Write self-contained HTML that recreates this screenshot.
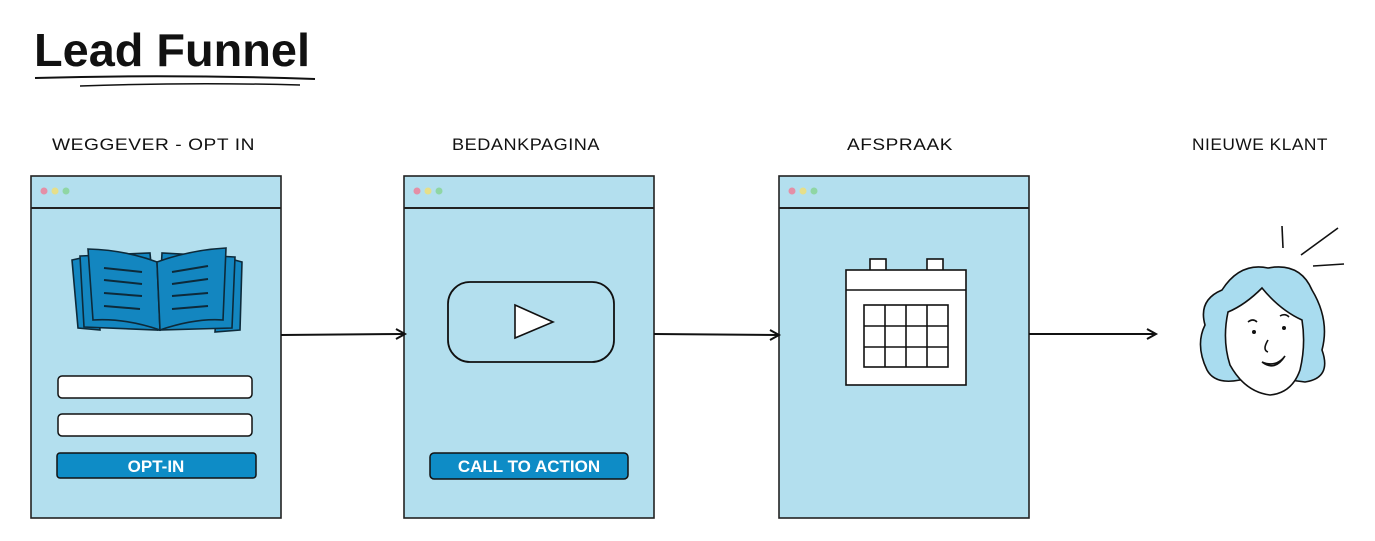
<!DOCTYPE html>
<html><head><meta charset="utf-8"><style>
html,body{margin:0;padding:0;background:#fff;}
svg{display:block}
</style></head><body>
<svg width="1375" height="541" viewBox="0 0 1375 541" xmlns="http://www.w3.org/2000/svg" font-family="Liberation Sans, sans-serif">
<text x="34" y="66" font-size="46" fill="#111" font-weight="bold" textLength="276" lengthAdjust="spacingAndGlyphs">Lead Funnel</text>
<path d="M35 78 Q170 74 315 79" stroke="#111" stroke-width="2" fill="none"/>
<path d="M80 86 Q190 82 300 85" stroke="#111" stroke-width="1.5" fill="none"/>

<g font-size="17" fill="#111" letter-spacing="0.5">
<text x="52" y="150" textLength="203" lengthAdjust="spacingAndGlyphs">WEGGEVER - OPT IN</text>
<text x="452" y="150" textLength="148" lengthAdjust="spacingAndGlyphs">BEDANKPAGINA</text>
<text x="847" y="150" textLength="106" lengthAdjust="spacingAndGlyphs">AFSPRAAK</text>
<text x="1192" y="150" textLength="136" lengthAdjust="spacingAndGlyphs">NIEUWE KLANT</text>
</g>

<g stroke="#222" stroke-width="1.6" fill="#b3dfee">
<rect x="31" y="176" width="250" height="342"/>
<rect x="404" y="176" width="250" height="342"/>
<rect x="779" y="176" width="250" height="342"/>
</g>
<g stroke="#222" stroke-width="2">
<line x1="31" y1="208" x2="281" y2="208"/>
<line x1="404" y1="208" x2="654" y2="208"/>
<line x1="779" y1="208" x2="1029" y2="208"/>
</g>
<g>
<circle cx="44" cy="191" r="3.5" fill="#e48fa6"/><circle cx="55" cy="191" r="3.5" fill="#e6df8a"/><circle cx="66" cy="191" r="3.5" fill="#8fd6a4"/>
<circle cx="417" cy="191" r="3.5" fill="#e48fa6"/><circle cx="428" cy="191" r="3.5" fill="#e6df8a"/><circle cx="439" cy="191" r="3.5" fill="#8fd6a4"/>
<circle cx="792" cy="191" r="3.5" fill="#e48fa6"/><circle cx="803" cy="191" r="3.5" fill="#e6df8a"/><circle cx="814" cy="191" r="3.5" fill="#8fd6a4"/>
</g>

<g stroke="#111" stroke-width="2" fill="none">
<path d="M281 335 L404 334"/><path d="M396 329 L405 334 L396 339"/>
<path d="M654 334 L778 335"/><path d="M770 330 L779 335 L770 340"/>
<path d="M1029 334 L1155 334"/><path d="M1147 329 L1156 334 L1147 339"/>
</g>

<g stroke="#0d2a3a" stroke-width="1.6" fill="#1386c0">
<path d="M72 260 L95 255 L100 330 L78 328 Z"/>
<path d="M242 262 L220 256 L215 332 L240 330 Z"/>
<path d="M80 256 L150 253 L157 330 L84 327 Z"/>
<path d="M235 257 L162 253 L158 330 L232 328 Z"/>
<path d="M88 249 Q125 250 157 262 L160 330 Q125 318 93 320 Z"/>
<path d="M226 248 Q190 250 157 262 L160 330 Q195 318 223 320 Z"/>
</g>
<g stroke="#0d2a3a" stroke-width="2" fill="none">
<path d="M104 268 L142 272"/><path d="M104 280 L142 284"/><path d="M104 293 L142 296"/><path d="M104 306 L140 309"/>
<path d="M172 272 L208 266"/><path d="M172 284 L208 279"/><path d="M172 296 L208 293"/><path d="M172 309 L208 306"/>
</g>

<g stroke="#111" stroke-width="1.5">
<rect x="58" y="376" width="194" height="22" rx="4" fill="#fff"/>
<rect x="58" y="414" width="194" height="22" rx="4" fill="#fff"/>
<rect x="57" y="453" width="199" height="25" rx="3" fill="#0e8cc6"/>
<rect x="430" y="453" width="198" height="26" rx="4" fill="#0e8cc6"/>
</g>
<text x="156" y="472" font-size="17" font-weight="bold" fill="#fff" text-anchor="middle">OPT-IN</text>
<text x="529" y="472" font-size="17" font-weight="bold" fill="#fff" text-anchor="middle">CALL TO ACTION</text>

<rect x="448" y="282" width="166" height="80" rx="22" fill="none" stroke="#111" stroke-width="1.8"/>
<path d="M515 305 L553 322 L515 338 Z" fill="#fff" stroke="#111" stroke-width="1.6"/>

<g stroke="#111" stroke-width="1.6" fill="#fff">
<rect x="870" y="259" width="16" height="12"/>
<rect x="927" y="259" width="16" height="12"/>
<rect x="846" y="270" width="120" height="115"/>
<line x1="846" y1="290" x2="966" y2="290"/>
<rect x="864" y="305" width="84" height="62"/>
<line x1="885" y1="305" x2="885" y2="367"/><line x1="906" y1="305" x2="906" y2="367"/><line x1="927" y1="305" x2="927" y2="367"/>
<line x1="864" y1="326" x2="948" y2="326"/><line x1="864" y1="347" x2="948" y2="347"/>
</g>

<g stroke="#111" stroke-width="1.6">
<line x1="1282" y1="226" x2="1283" y2="248" fill="none"/>
<line x1="1301" y1="255" x2="1338" y2="228" fill="none"/>
<line x1="1313" y1="266" x2="1344" y2="264" fill="none"/>
<path d="M1222 290 Q1240 262 1268 268 Q1300 262 1312 290 Q1330 320 1322 350 Q1332 378 1305 382 Q1290 380 1288 380 L1240 380 Q1215 385 1207 370 Q1195 345 1205 325 Q1198 300 1222 290 Z" fill="#a9dcef"/>
<path d="M1262 288 Q1245 305 1228 312 Q1222 340 1230 365 Q1245 392 1270 395 Q1292 393 1300 370 Q1306 345 1302 320 Q1280 310 1262 288 Z" fill="#fff"/>
<path d="M1248 322 Q1253 318 1257 322 M1280 316 Q1285 313 1289 317 M1268 340 Q1262 350 1268 352 M1262 362 Q1276 368 1285 356 Q1275 372 1262 362 Z" fill="none"/>
</g>
<circle cx="1254" cy="332" r="2" fill="#111"/><circle cx="1284" cy="328" r="2" fill="#111"/>
</svg>
</body></html>
